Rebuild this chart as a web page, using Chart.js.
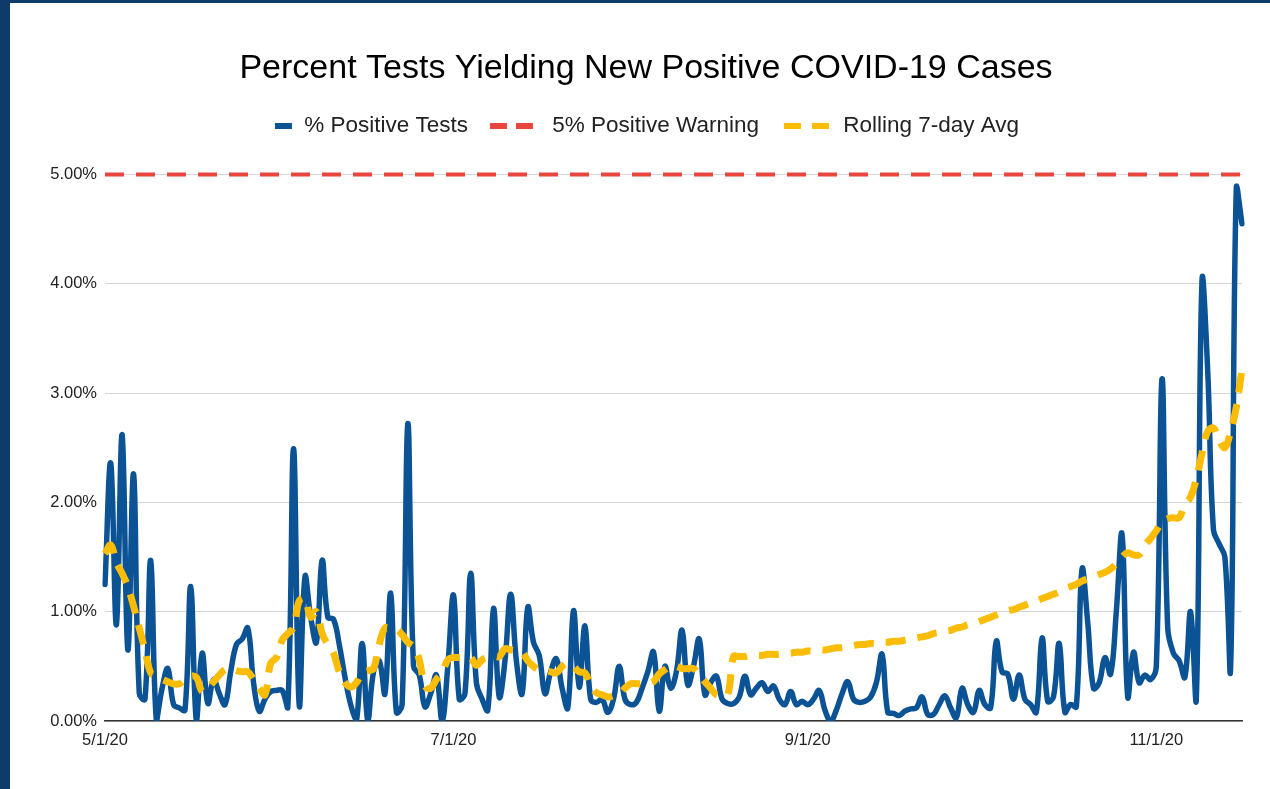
<!DOCTYPE html>
<html><head><meta charset="utf-8">
<script src="https://cdn.jsdelivr.net/npm/chart.js@4.4.0/dist/chart.umd.min.js"></script>
<style>
html,body{margin:0;padding:0;background:#0c3b6c;width:1270px;height:789px;overflow:hidden}
#panel{position:absolute;left:10px;top:3px;width:1260px;height:786px;background:#fff}
canvas{display:block}
</style></head><body>
<div id="panel"><canvas id="c" width="1260" height="786"></canvas></div>
<script>
const chartTitle = 'Percent Tests Yielding New Positive COVID-19 Cases';
const seriesNames = ['% Positive Tests', '5% Positive Warning', 'Rolling 7-day Avg'];
const tickLabels = ['5/1/20', '7/1/20', '9/1/20', '11/1/20'];
const dates = [
'5/1/20','5/2/20','5/3/20','5/4/20','5/5/20','5/6/20','5/7/20','5/8/20','5/9/20','5/10/20','5/11/20','5/12/20','5/13/20','5/14/20','5/15/20','5/16/20','5/17/20','5/18/20','5/19/20','5/20/20','5/21/20','5/22/20','5/23/20','5/24/20','5/25/20','5/26/20','5/27/20','5/28/20','5/29/20','5/30/20','5/31/20',
'6/1/20','6/2/20','6/3/20','6/4/20','6/5/20','6/6/20','6/7/20','6/8/20','6/9/20','6/10/20','6/11/20','6/12/20','6/13/20','6/14/20','6/15/20','6/16/20','6/17/20','6/18/20','6/19/20','6/20/20','6/21/20','6/22/20','6/23/20','6/24/20','6/25/20','6/26/20','6/27/20','6/28/20','6/29/20','6/30/20',
'7/1/20','7/2/20','7/3/20','7/4/20','7/5/20','7/6/20','7/7/20','7/8/20','7/9/20','7/10/20','7/11/20','7/12/20','7/13/20','7/14/20','7/15/20','7/16/20','7/17/20','7/18/20','7/19/20','7/20/20','7/21/20','7/22/20','7/23/20','7/24/20','7/25/20','7/26/20','7/27/20','7/28/20','7/29/20','7/30/20','7/31/20',
'8/1/20','8/2/20','8/3/20','8/4/20','8/5/20','8/6/20','8/7/20','8/8/20','8/9/20','8/10/20','8/11/20','8/12/20','8/13/20','8/14/20','8/15/20','8/16/20','8/17/20','8/18/20','8/19/20','8/20/20','8/21/20','8/22/20','8/23/20','8/24/20','8/25/20','8/26/20','8/27/20','8/28/20','8/29/20','8/30/20','8/31/20',
'9/1/20','9/2/20','9/3/20','9/4/20','9/5/20','9/6/20','9/7/20','9/8/20','9/9/20','9/10/20','9/11/20','9/12/20','9/13/20','9/14/20','9/15/20','9/16/20','9/17/20','9/18/20','9/19/20','9/20/20','9/21/20','9/22/20','9/23/20','9/24/20','9/25/20','9/26/20','9/27/20','9/28/20','9/29/20','9/30/20',
'10/1/20','10/2/20','10/3/20','10/4/20','10/5/20','10/6/20','10/7/20','10/8/20','10/9/20','10/10/20','10/11/20','10/12/20','10/13/20','10/14/20','10/15/20','10/16/20','10/17/20','10/18/20','10/19/20','10/20/20','10/21/20','10/22/20','10/23/20','10/24/20','10/25/20','10/26/20','10/27/20','10/28/20','10/29/20','10/30/20','10/31/20',
'11/1/20','11/2/20','11/3/20','11/4/20','11/5/20','11/6/20','11/7/20','11/8/20','11/9/20','11/10/20','11/11/20','11/12/20','11/13/20','11/14/20','11/15/20','11/16/20'
];
// % positive tests (percent), one per date
const positiveRate = [
1.25,2.36,0.88,2.62,0.65,2.26,0.25,0.20,1.47,0.00,
0.30,0.48,0.15,0.12,0.10,1.23,0.00,0.62,0.16,0.38,
0.25,0.15,0.45,0.70,0.75,0.85,0.35,0.09,0.20,0.27,
0.28,0.28,0.13,2.49,0.14,1.32,0.95,0.72,1.47,0.95,
0.93,0.70,0.40,0.15,0.00,0.71,0.00,0.45,0.55,0.25,
1.17,0.08,0.15,2.72,0.50,0.42,0.13,0.25,0.42,0.00,
0.50,1.15,0.20,0.25,1.35,0.35,0.20,0.10,1.03,0.22,
0.55,1.16,0.55,0.25,1.04,0.72,0.60,0.25,0.45,0.57,
0.30,0.12,1.01,0.31,0.87,0.20,0.17,0.20,0.08,0.20,
0.50,0.20,0.15,0.17,0.30,0.45,0.63,0.09,0.50,0.30,
0.45,0.83,0.33,0.50,0.75,0.24,0.35,0.41,0.20,0.16,
0.16,0.22,0.41,0.24,0.30,0.35,0.27,0.32,0.20,0.15,
0.27,0.15,0.18,0.15,0.20,0.28,0.10,0.00,0.10,0.25,
0.36,0.20,0.17,0.18,0.22,0.35,0.61,0.08,0.07,0.05,
0.09,0.11,0.12,0.22,0.06,0.06,0.15,0.23,0.12,0.03,
0.30,0.15,0.08,0.28,0.15,0.12,0.73,0.45,0.43,0.20,
0.42,0.20,0.15,0.08,0.76,0.18,0.22,0.71,0.08,0.15,
0.13,1.39,0.90,0.30,0.35,0.58,0.43,1.00,1.71,0.22,
0.63,0.35,0.42,0.38,0.50,3.13,0.85,0.62,0.55,0.40,
1.00,0.20,4.03,3.20,1.75,1.62,1.50,0.48,4.87,4.55
];
// rolling 7-day average (percent), one per date
const rollingAvg = [
1.53,1.61,1.45,1.35,1.23,1.05,0.85,0.65,0.44,0.41,
0.38,0.36,0.34,0.34,0.38,0.41,0.40,0.27,0.30,0.36,
0.42,0.47,0.48,0.46,0.45,0.45,0.38,0.30,0.24,0.53,
0.58,0.74,0.80,0.86,1.10,1.12,0.95,1.00,0.80,0.70,
0.62,0.45,0.35,0.31,0.35,0.44,0.46,0.48,0.70,0.85,
0.85,0.84,0.79,0.72,0.68,0.56,0.32,0.30,0.38,0.44,
0.56,0.58,0.58,0.58,0.58,0.51,0.56,0.58,0.59,0.59,
0.66,0.65,0.64,0.63,0.55,0.50,0.47,0.46,0.45,0.44,
0.50,0.53,0.50,0.45,0.44,0.33,0.26,0.24,0.22,0.23,
0.25,0.30,0.34,0.34,0.34,0.34,0.36,0.43,0.47,0.50,
0.50,0.48,0.48,0.48,0.42,0.36,0.30,0.24,0.24,0.24,
0.59,0.59,0.59,0.60,0.60,0.60,0.61,0.61,0.61,0.62,
0.62,0.63,0.63,0.64,0.64,0.65,0.65,0.66,0.67,0.67,
0.68,0.69,0.70,0.70,0.71,0.71,0.72,0.72,0.73,0.73,
0.74,0.75,0.76,0.77,0.78,0.80,0.81,0.82,0.83,0.85,
0.86,0.88,0.89,0.91,0.93,0.95,0.97,0.99,1.01,1.02,
1.04,1.06,1.08,1.10,1.12,1.14,1.16,1.18,1.21,1.23,
1.25,1.28,1.30,1.32,1.34,1.36,1.39,1.44,1.50,1.54,
1.52,1.52,1.61,1.67,1.74,1.82,1.85,1.86,1.86,1.98,
2.05,2.21,2.45,2.65,2.68,2.57,2.50,2.65,2.87,3.22
];
const warningLevel = [5, 5];

const FONT = "'Liberation Sans', Arial, sans-serif";
const BLUE = '#0b5394', RED = '#e8453c', YELLOW = '#fbbc04';

function marker(w, h, segs, color) {
  const c = document.createElement('canvas');
  c.width = w; c.height = h;
  const g = c.getContext('2d');
  g.fillStyle = color;
  segs.forEach(([a, b]) => g.fillRect(a, 0, b - a, h));
  return c;
}
const legendMarks = [
  marker(52, 6, [[34, 51]], BLUE),
  marker(52, 6, [[1, 18], [27, 44]], RED),
  marker(52, 6, [[4, 21], [32, 49]], YELLOW)
];
const legendColors = [BLUE, RED, YELLOW];

const placeBlocks = {
  id: 'placeBlocks',
  afterLayout(chart) {
    const t = chart.titleBlock;
    if (t) { t.left += 20; t.right += 20; }
    const l = chart.legend;
    if (l) { l.top -= 27; l.bottom -= 27; l.left += 4; l.right += 4; }
  }
};

new Chart(document.getElementById('c'), {
  type: 'line',
  data: {
    labels: dates,
    datasets: [
      { label: seriesNames[0], data: positiveRate, borderColor: BLUE, backgroundColor: BLUE,
        borderWidth: 5.5, pointRadius: 0, tension: 0.4, order: 3, borderCapStyle: 'round', borderJoinStyle: 'round' },
      { label: seriesNames[1], data: [{x: dates[0], y: warningLevel[0]}, {x: dates[dates.length - 1], y: warningLevel[1]}],
        borderColor: RED, backgroundColor: RED, borderWidth: 4, borderDash: [19, 12], pointRadius: 0, order: 2, clip: false },
      { label: seriesNames[2], data: rollingAvg, borderColor: YELLOW, backgroundColor: YELLOW,
        borderWidth: 7, borderDash: [20, 12], pointRadius: 0, tension: 0.4, order: 1 }
    ]
  },
  options: {
    responsive: false,
    animation: false,
    devicePixelRatio: 1,
    layout: { padding: { left: 0, right: 28, top: 0, bottom: 0 } },
    plugins: {
      title: { display: true, text: chartTitle, color: '#000', font: { family: FONT, size: 34, weight: 'normal' },
        padding: { top: 45, bottom: 32.2 } },
      legend: {
        position: 'top', align: 'center',
        labels: {
          usePointStyle: true, pointStyleWidth: 52, boxHeight: 22.5, padding: 21,
          color: '#222', font: { family: FONT, size: 22.5 },
          generateLabels: () => seriesNames.map((name, i) => ({
            text: name, pointStyle: legendMarks[i], fillStyle: legendColors[i], strokeStyle: legendColors[i],
            lineWidth: 0, hidden: false, datasetIndex: i, fontColor: '#222'
          }))
        }
      },
      tooltip: { enabled: false }
    },
    scales: {
      x: {
        type: 'category', offset: false,
        grid: { display: false, drawTicks: false },
        border: { display: true, color: '#333', width: 1.5 },
        ticks: { autoSkip: false, maxRotation: 0, minRotation: 0, padding: 10, color: '#222',
          font: { family: FONT, size: 16.5 },
          callback(v) { const l = this.getLabelForValue(v); return tickLabels.includes(l) ? l : ''; } },
        afterFit(s) { s.height = 68; }
      },
      y: {
        min: 0, max: 5,
        grid: { color: '#d6d6d6', lineWidth: 1, drawTicks: false },
        border: { display: false },
        ticks: { stepSize: 1, padding: 8, color: '#222', font: { family: FONT, size: 16.5 },
          callback: v => v.toFixed(2) + '%' },
        afterFit(s) { s.width = 95; }
      }
    }
  },
  plugins: [placeBlocks]
});
</script>
</body></html>
